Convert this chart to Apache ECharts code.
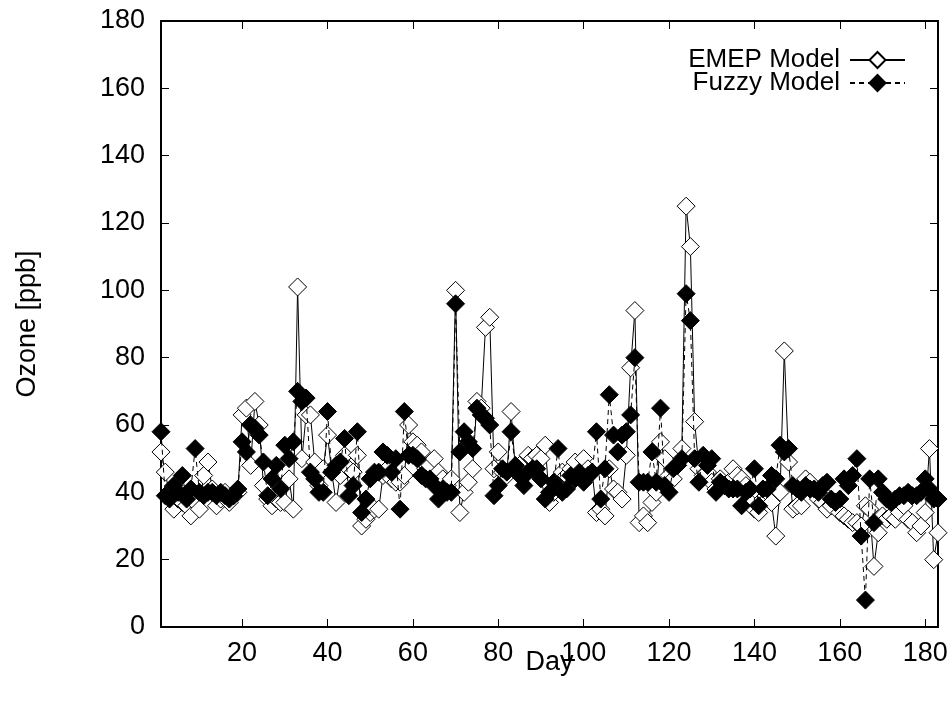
<!DOCTYPE html>
<html>
<head>
<meta charset="utf-8">
<script src="https://cdn.jsdelivr.net/npm/echarts@6/dist/echarts.min.js"></script>
<style>
html,body{margin:0;padding:0;background:#fff;}
#chart{width:952px;height:702px;}
</style>
</head>
<body>
<div id="chart"></div>
<script>
// Day 1 .. 183
const dayCount = 183;
const xTicks = [20, 40, 60, 80, 100, 120, 140, 160, 180];

const emepModel = [
  52, 46, 39, 35, 38, 37, 36, 33, 37, 35,
  45, 49, 41, 36, 38, 40, 37, 39, 40, 63,
  65, 48, 67, 60, 42, 38, 36, 38, 37, 37,
  44, 35, 101, 50, 63, 63, 49, 42, 47, 57,
  46, 37, 45, 51, 47, 46, 51, 30, 32, 34,
  35, 35, 45, 47, 44, 43, 43, 45, 60, 55,
  54, 52, 47, 48, 50, 46, 44, 42, 44, 100,
  34, 40, 43, 47, 67, 65, 89, 92, 47, 52,
  46, 45, 64, 47, 48, 45, 51, 50, 51, 50,
  54, 37, 40, 42, 46, 45, 47, 49, 45, 50,
  47, 46, 34, 35, 33, 47, 41, 40, 38, 51,
  77, 94, 31, 33, 31, 37, 40, 55, 50, 45,
  44, 48, 53, 125, 113, 61, 47, 45, 46, 43,
  41, 44, 42, 43, 47, 45, 44, 42, 37, 35,
  34, 38, 40, 37, 27, 40, 82, 49, 35, 36,
  36, 44, 43, 40, 38, 37, 35, 36, 37, 34,
  33, 32, 31, 31, 30, 36, 35, 18, 28, 33,
  32, 33, 32, 34, 36, 32, 31, 28, 30, 34,
  53, 20, 28
];

const fuzzyModel = [
  58, 39, 38, 42, 40, 45, 38, 41, 53, 40,
  39, 40, 40, 39, 40, 39, 38, 39, 41, 55,
  52, 60, 59, 57, 49, 39, 44, 48, 41, 54,
  50, 55, 70, 67, 68, 46, 44, 40, 40, 64,
  46, 48, 49, 56, 39, 42, 58, 34, 38, 44,
  46, 46, 52, 51, 46, 50, 35, 64, 51, 51,
  50, 45, 44, 44, 42, 38, 41, 40, 40, 96,
  52, 58, 55, 53, 65, 63, 62, 60, 39, 42,
  47, 46, 58, 48, 45, 42, 46, 47, 47, 44,
  38, 40, 43, 53, 40, 41, 45, 44, 46, 43,
  45, 46, 58, 38, 47, 69, 57, 52, 57, 58,
  63, 80, 43, 43, 43, 52, 43, 65, 42, 40,
  47, 48, 50, 99, 91, 50, 43, 51, 48, 50,
  40, 43, 42, 41, 41, 41, 36, 40, 41, 47,
  36, 41, 41, 45, 44, 54, 52, 53, 42, 41,
  40, 42, 41, 41, 40, 42, 43, 38, 37, 38,
  44, 42, 45, 50, 27, 8, 44, 31, 44, 40,
  38, 37, 38, 39, 39, 40, 39, 39, 40, 44,
  41, 38, 38
];

const days = [];
for (let i = 1; i <= dayCount; i++) days.push(i);
const emepData = days.map((d, i) => [d, emepModel[i]]);
const fuzzyData = days.map((d, i) => [d, fuzzyModel[i]]);

const FONT = "'Liberation Sans', Arial, Helvetica, sans-serif";
const FS = 27;

const chart = echarts.init(document.getElementById('chart'), null, {renderer: 'canvas'});
const axisLine = {show: true, onZero: false, lineStyle: {color: '#000', width: 2}};
const tickStyle = {show: true, inside: true, length: 8, lineStyle: {color: '#000', width: 1}};

chart.setOption({
  animation: false,
  backgroundColor: '#fff',
  grid: {left: 161, right: 14, top: 21, bottom: 75, containLabel: false},
  legend: {
    orient: 'vertical',
    right: 46,
    top: 47,
    align: 'right',
    padding: 0,
    itemGap: -3,
    itemWidth: 55,
    itemHeight: 20,
    selectedMode: false,
    textStyle: {fontFamily: FONT, fontSize: 26, color: '#000', lineHeight: 18, padding: [0, 5, 0, 0]},
    data: ['EMEP Model', 'Fuzzy Model']
  },
  xAxis: [{
    type: 'value', position: 'bottom', min: 1, max: 183,
    axisLine: axisLine,
    axisTick: Object.assign({customValues: xTicks}, tickStyle),
    axisLabel: {customValues: xTicks, fontFamily: FONT, fontSize: FS, color: '#000', margin: 13},
    splitLine: {show: false},
    name: 'Day', nameLocation: 'middle', nameGap: 22, nameMoveOverlap: false,
    nameTextStyle: {fontFamily: FONT, fontSize: FS, color: '#000'}
  }, {
    type: 'value', position: 'top', min: 1, max: 183,
    axisLine: axisLine,
    axisTick: Object.assign({customValues: xTicks}, tickStyle),
    axisLabel: {show: false},
    splitLine: {show: false}
  }],
  yAxis: [{
    type: 'value', position: 'left', min: 0, max: 180, interval: 20,
    axisLine: axisLine,
    axisTick: tickStyle,
    axisLabel: {fontFamily: FONT, fontSize: FS, color: '#000', margin: 16},
    splitLine: {show: false},
    name: 'Ozone [ppb]', nameLocation: 'middle', nameGap: 120,
    nameTextStyle: {fontFamily: FONT, fontSize: FS, color: '#000'}
  }, {
    type: 'value', position: 'right', min: 0, max: 180, interval: 20,
    axisLine: axisLine,
    axisTick: tickStyle,
    axisLabel: {show: false},
    splitLine: {show: false}
  }],
  series: [{
    name: 'EMEP Model',
    type: 'line',
    xAxisIndex: 0, yAxisIndex: 0,
    data: emepData,
    symbol: 'diamond',
    symbolSize: 18,
    showAllSymbol: true,
    lineStyle: {color: '#000', width: 1, type: 'solid'},
    itemStyle: {color: '#fff', borderColor: '#000', borderWidth: 1},
    emphasis: {disabled: true},
    z: 2
  }, {
    name: 'Fuzzy Model',
    type: 'line',
    xAxisIndex: 0, yAxisIndex: 0,
    data: fuzzyData,
    symbol: 'diamond',
    symbolSize: 18,
    showAllSymbol: true,
    lineStyle: {color: '#000', width: 1, type: [5, 4]},
    itemStyle: {color: '#000', borderColor: '#000', borderWidth: 1},
    emphasis: {disabled: true},
    z: 3
  }]
});
</script>
</body>
</html>
